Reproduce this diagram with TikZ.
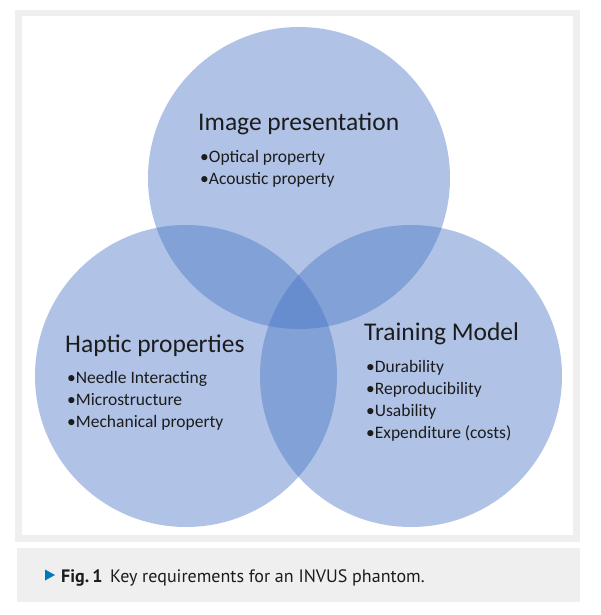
\documentclass[tikz,border=0pt]{standalone}
\usepackage{fontspec}
\setmainfont{Carlito}
\newfontfamily\capfont{PT Sans}
\definecolor{vblue}{RGB}{68,114,196}
\definecolor{framegrey}{RGB}{239,239,239}
\definecolor{txtdark}{RGB}{28,28,28}
\definecolor{tri}{RGB}{0,120,190}
\begin{document}
\begin{tikzpicture}[x=1pt,y=-1pt,
  vcirc/.style={circle,minimum size=302pt,inner sep=0pt,draw=none,fill=vblue,fill opacity=0.42},
  ttl/.style={anchor=base west,inner sep=0pt,text=txtdark,font=\fontsize{25.5}{30}\selectfont},
  itm/.style={anchor=base west,inner sep=0pt,text=txtdark,font=\fontsize{17.5}{21}\selectfont},
  captext/.style={anchor=base west,inner sep=0pt,text=txtdark,font=\capfont\fontsize{18}{22}\selectfont}]
\useasboundingbox (0,0) rectangle (600,615);
\fill[white] (0,0) rectangle (600,615);
\fill[framegrey] (15,10) rectangle (580,542);
\fill[white] (22,16) rectangle (573,535);
\fill[framegrey] (17,548) rectangle (580,602);
% circles
\node[vcirc] (ctop) at (299,178) {};
\node[vcirc] (cleft) at (186,376) {};
\node[vcirc] (cright) at (411,376) {};
% texts
\node[ttl] (t1) at (198,130) {Image presentation};
\node[itm] (t1a) at (200,162) {•Optical property};
\node[itm] (t1b) at (200,184) {•Acoustic property};
\node[ttl] (t2) at (65,352) {Haptic properties};
\node[itm] (t2a) at (67,383) {•Needle Interacting};
\node[itm] (t2b) at (67,405) {•Microstructure};
\node[itm] (t2c) at (67,427) {•Mechanical property};
\node[ttl] (t3) at (364,340) {Training Model};
\node[itm] (t3a) at (366,372) {•Durability};
\node[itm] (t3b) at (366,394) {•Reproducibility};
\node[itm] (t3c) at (366,416) {•Usability};
\node[itm] (t3d) at (366,438) {•Expenditure (costs)};
% caption
\fill[tri] (45,569.5) -- (55,575) -- (45,580.5) -- cycle;
\node[captext] (fig) at (61,582) {\bfseries Fig.\,1};
\node[captext] (captxt) at (110,582) {Key requirements for an INVUS phantom.};
\end{tikzpicture}
\end{document}
